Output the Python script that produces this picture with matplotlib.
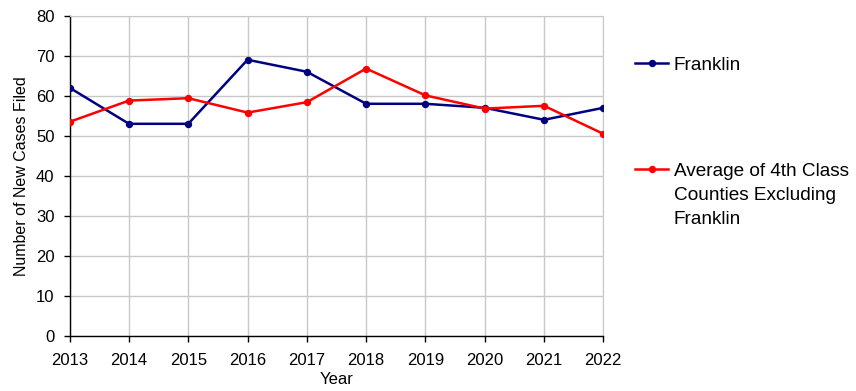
import matplotlib
matplotlib.use("Agg")
import matplotlib.pyplot as plt

plt.rcParams['font.family'] = ['Liberation Sans', 'DejaVu Sans']

years = [2013, 2014, 2015, 2016, 2017, 2018, 2019, 2020, 2021, 2022]
franklin = [62, 53, 53, 69, 66, 58, 58, 57, 54, 57]
average = [53.5, 58.8, 59.4, 55.8, 58.4, 66.8, 60.1, 56.8, 57.5, 50.5]
yticks = [0, 10, 20, 30, 40, 50, 60, 70, 80]
series_labels = ["Franklin", "Average of 4th Class\nCounties Excluding\nFranklin"]

fig = plt.figure(figsize=(8.56, 3.91), dpi=100)
ax = fig.add_axes([0.0814, 0.1407, 0.7048 - 0.0814, 0.9598 - 0.1407])

l1, = ax.plot(years, franklin, color='#000080', lw=1.8, marker='o', ms=4.3, label=series_labels[0], zorder=3)
l2, = ax.plot(years, average, color='#ff0000', lw=1.8, marker='o', ms=4.3, label=series_labels[1], zorder=3)

ax.set_xlim(years[0], years[-1])
ax.set_ylim(0, 80)
ax.set_xticks(years)
ax.set_yticks(yticks)
ax.grid(True, color='#c8c8c8', lw=1)
ax.set_axisbelow(True)
for s in ['top', 'right']:
    ax.spines[s].set_color('#c8c8c8')
for s in ['left', 'bottom']:
    ax.spines[s].set_color('black')
    ax.spines[s].set_linewidth(1)
ax.tick_params(axis='both', direction='out', length=4, width=1, labelsize=12, colors='black')
ax.tick_params(axis='y', pad=7)
ax.tick_params(axis='x', pad=8.5)
ax.set_xlabel('Year', fontsize=12, labelpad=2.5)
ax.set_ylabel('Number of New Cases Filed', fontsize=11.5, labelpad=5)

legfs = 13.7
first_lines = [lab.split('\n')[0] for lab in series_labels]
rest = '\n'.join(series_labels[1].split('\n')[1:])

leg1 = fig.legend(handles=[l1], labels=[first_lines[0]], loc='center left', bbox_to_anchor=(0.742, 1 - 65 / 391),
                  frameon=False, fontsize=legfs, handlelength=1.75, handletextpad=0.28, borderpad=0, borderaxespad=0)
leg2 = fig.legend(handles=[l2], labels=[first_lines[1]], loc='center left', bbox_to_anchor=(0.742, 1 - 171 / 391),
                  frameon=False, fontsize=legfs, handlelength=1.75, handletextpad=0.28, borderpad=0, borderaxespad=0)

fig.canvas.draw()
r = fig.canvas.get_renderer()
bb = leg2.get_texts()[0].get_window_extent(r)
x0, y0 = fig.transFigure.inverted().transform((bb.x0, bb.y0))
fig.text(x0, y0 - 7 / 391, rest, fontsize=legfs, ha='left', va='top', linespacing=1.55)

fig.savefig('out.png', dpi=100)
